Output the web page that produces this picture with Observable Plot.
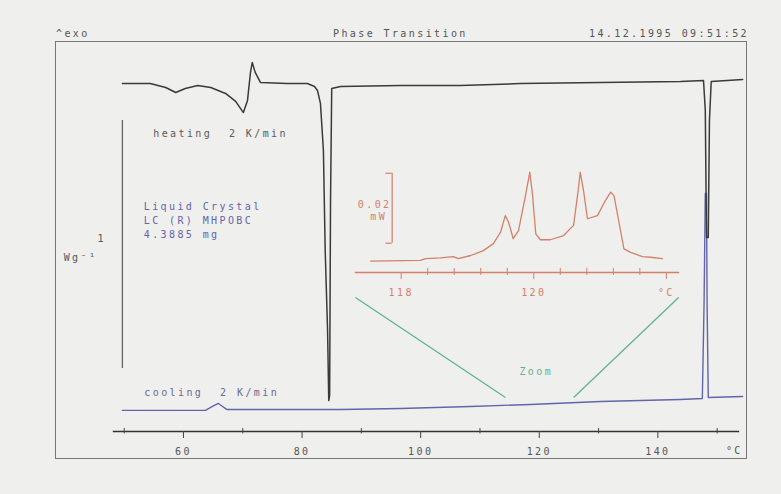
<!DOCTYPE html>
<html><head><meta charset="utf-8">
<script src="https://cdn.jsdelivr.net/npm/d3@7"></script>
<script src="https://cdn.jsdelivr.net/npm/@observablehq/plot@0.6"></script>
<style>
html,body{margin:0;padding:0;background:#efefed;}
#wrap{position:relative;width:781px;height:494px;overflow:hidden;background:#efefed;}
#wrap svg{position:absolute;left:0;top:0;}
#wrap svg text{letter-spacing:2.4px;}
.hdr{position:absolute;top:28px;font-family:"DejaVu Sans Mono",monospace;font-size:10px;letter-spacing:2.4px;color:#555;white-space:pre;line-height:12px;}
#box{position:absolute;left:55px;top:41px;width:692px;height:418px;border:1px solid #777;box-sizing:border-box;}
</style></head><body>
<div id="wrap"><div id="box"></div>
<div class="hdr" style="left:56px;">^exo</div>
<div class="hdr" style="left:333px;">Phase Transition</div>
<div class="hdr" style="left:589px;">14.12.1995 09:51:52</div>
</div>
<script>
// ---- data ----
// heating curve: temperature (°C) and heat flow (W/g, arbitrary offset)
const heatingT = [49.7,54.4,57.0,58.7,60.3,62.4,64.6,67.1,68.8,70.1,70.8,71.3,71.6,72.1,73.0,77.5,80.9,82.1,82.6,83.1,83.6,83.9,84.3,84.5,84.65,84.8,85.0,86.5,96.6,106.7,116.8,130.3,143.8,147.7,148.0,148.2,148.5,148.7,149.0,154.3];
const heatingW = [1.399,1.399,1.383,1.363,1.379,1.391,1.383,1.359,1.327,1.282,1.331,1.444,1.484,1.444,1.403,1.399,1.399,1.387,1.371,1.319,1.129,0.726,0.403,0.121,0.141,0.927,1.379,1.387,1.391,1.391,1.399,1.403,1.407,1.411,1.290,0.778,0.778,1.250,1.407,1.415];
// cooling curve
const coolingT = [49.7,63.7,64.6,65.2,65.9,66.6,67.3,76.4,86.5,96.6,108.4,118.5,130.3,143.8,147.5,147.8,148.0,148.2,148.3,148.5,154.3];
const coolingW = [0.081,0.081,0.093,0.101,0.109,0.097,0.085,0.085,0.085,0.089,0.097,0.105,0.117,0.125,0.129,0.524,0.956,0.956,0.524,0.133,0.137];
// zoomed inset: temperature (°C) and heat flow (mW)
const insetT = [117.54,118.29,118.37,118.59,118.79,118.86,119.05,119.24,119.39,119.50,119.57,119.62,119.69,119.77,119.88,119.94,119.98,120.03,120.10,120.25,120.45,120.60,120.67,120.70,120.75,120.81,120.96,121.08,121.16,121.21,121.28,121.36,121.46,121.64,121.76,121.94];
const insetMW = [0.0004,0.0006,0.0011,0.0013,0.0017,0.0011,0.0020,0.0034,0.0054,0.0087,0.0134,0.0115,0.0068,0.0091,0.0196,0.0258,0.0196,0.0082,0.0065,0.0065,0.0077,0.0106,0.0206,0.0258,0.0206,0.0125,0.0134,0.0177,0.0201,0.0191,0.0120,0.0039,0.0029,0.0017,0.0015,0.0011];
// tick labels
const mainTicksMajor = [60,80,100,120,140];
const mainTicksMinor = [50,70,90,110,130,150];
const insetTicksMajor = [118,120,122];
const insetTicksMinor = [118.4,118.8,119.2,119.6,120.4,120.8,121.2,121.6];
const infoLines = ["Liquid Crystal","LC (R) MHPOBC","4.3885 mg"];

// ---- build ----
const heating = heatingT.map((t,i)=>({t, w: heatingW[i]}));
const cooling = coolingT.map((t,i)=>({t, w: coolingW[i]}));
const inset = insetT.map((t,i)=>({t, mw: insetMW[i]}));
const zoomLinks = [
  {x1: 89.0, y1: 0.536, x2: 114.3, y2: 0.133},
  {x1: 143.5, y1: 0.536, x2: 125.8, y2: 0.133}
];
const font = {background:"transparent", fontFamily:"'DejaVu Sans Mono', monospace", fontSize:"10px", overflow:"visible"};
const red = "#d4806c", green = "#62b394", blue = "#6464ac", dark = "#3a3a3a";

const main = Plot.plot({
  width: 781, height: 494,
  marginLeft: 113, marginRight: 43, marginTop: 41, marginBottom: 63,
  style: font,
  x: {domain: [48.2, 153.6], label: null},
  y: {domain: [-0.004, 1.5685], axis: null, label: null},
  marks: [
    Plot.frame({anchor: "bottom", stroke: "#333", strokeWidth: 1.4}),
    Plot.ruleX(mainTicksMinor, {x: d => d, y1: -0.014, y2: 0.008, stroke: "#444"}),
    Plot.axisX(mainTicksMajor, {tickSize: 7, tickPadding: 9, stroke: "#444", fill: "#555", label: null, tickFormat: d => String(d)}),
    Plot.text(["°C"], {x: 152.9, y: -0.081, fill: "#555"}),
    // scale bar 1 W/g
    Plot.ruleX([49.7], {x: d => d, y1: 0.25, y2: 1.25, stroke: "#666", strokeWidth: 1.3}),
    Plot.text(["1"], {x: 46.2, y: 0.774, fill: "#555"}),
    Plot.text(["Wg⁻¹"], {x: 39.8, y: 0.698, textAnchor: "start", fill: "#555"}),
    // zoom guide lines
    Plot.link(zoomLinks, {x1: "x1", y1: "y1", x2: "x2", y2: "y2", stroke: green, strokeWidth: 1.3}),
    Plot.text(["Zoom"], {x: 119.5, y: 0.238, fill: green}),
    // curves
    Plot.line(cooling, {x: "t", y: "w", stroke: blue, strokeWidth: 1.4}),
    Plot.line(heating, {x: "t", y: "w", stroke: dark, strokeWidth: 1.5}),
    // annotations
    Plot.text(["heating  2 K/min"], {x: 54.9, y: 1.198, textAnchor: "start", fill: "#5a5a5a"}),
    Plot.text([infoLines.join("\n")], {x: 53.3, y: 0.928, textAnchor: "start", lineAnchor: "top", lineHeight: 1.4, fill: blue}),
    Plot.text(["cooling  2 K/min"], {x: 53.4, y: 0.154, textAnchor: "start", fill: "#6a6a94"})
  ]
});

const zoomPlot = Plot.plot({
  width: 781, height: 494,
  marginLeft: 355, marginRight: 103, marginTop: 150, marginBottom: 222,
  style: font,
  x: {domain: [117.311, 122.183], label: null},
  y: {domain: [-0.002857, 0.032], axis: null, label: null},
  marks: [
    Plot.frame({anchor: "bottom", stroke: red, strokeWidth: 1.4}),
    Plot.ruleX(insetTicksMinor, {x: d => d, y1: -0.0037, y2: -0.0017, stroke: red}),
    Plot.axisX(insetTicksMajor, {tickSize: 7, tickPadding: 9, stroke: red, fill: red, label: null, tickFormat: d => d === 122 ? "°C" : String(d)}),
    Plot.line(inset, {x: "t", y: "mw", stroke: red, strokeWidth: 1.3}),
    // 0.02 mW scale bar
    Plot.ruleX([117.864], {x: d => d, y1: 0.0055, y2: 0.0255, stroke: red, strokeWidth: 1.2}),
    Plot.ruleY([0.0055, 0.0255], {y: d => d, x1: 117.77, x2: 117.864, stroke: red, strokeWidth: 1.2}),
    Plot.text(["0.02"], {x: 117.6, y: 0.0166, fill: red}),
    Plot.text(["mW"], {x: 117.66, y: 0.0131, fill: red})
  ]
});

const wrap = document.getElementById("wrap");
wrap.appendChild(main);
wrap.appendChild(zoomPlot);
</script>
</body></html>
